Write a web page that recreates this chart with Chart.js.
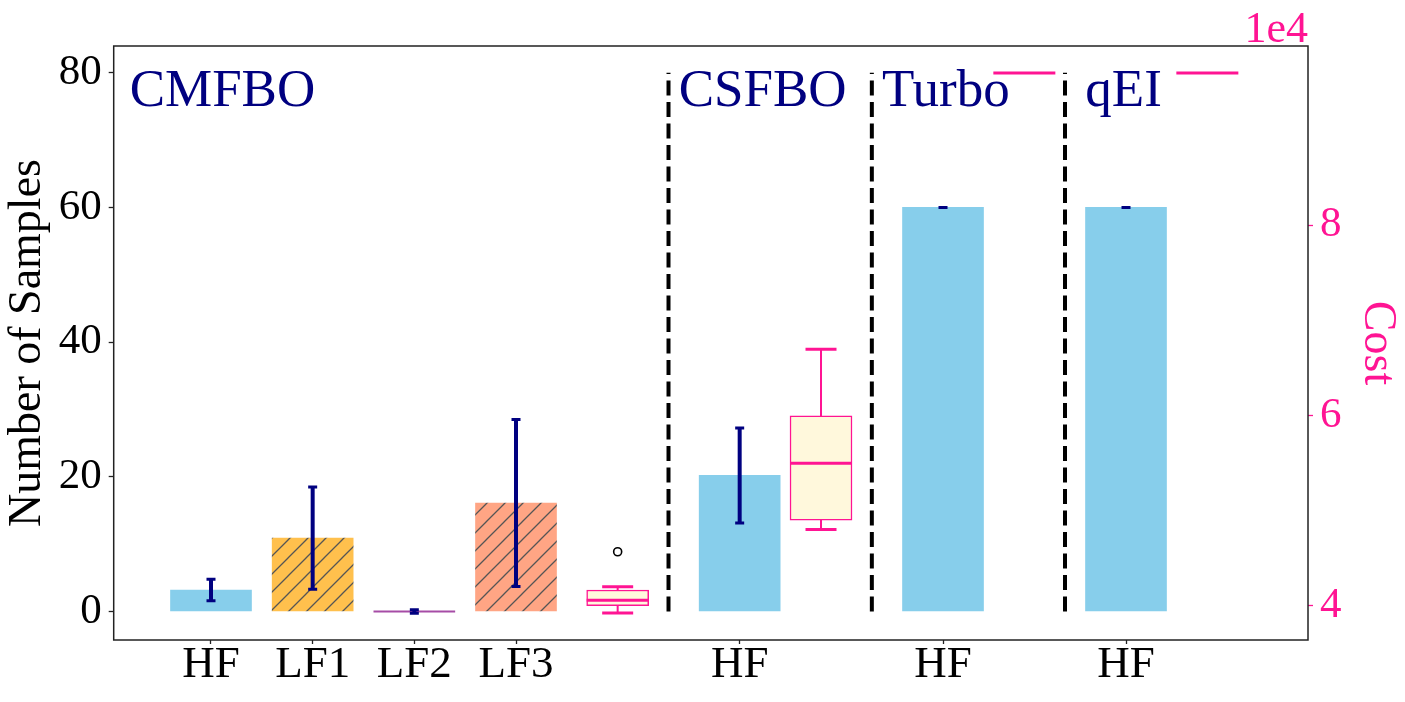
<!DOCTYPE html>
<html>
<head>
<meta charset="utf-8">
<script src="https://cdn.jsdelivr.net/npm/chart.js@4.4.1/dist/chart.umd.min.js"></script>
<style>
  html, body { margin: 0; padding: 0; background: #fff; }
  #wrap { width: 1405px; height: 702px; }
</style>
</head>
<body>
<div id="wrap"><canvas id="chart"></canvas></div>
<script>
// bars: number of samples (mean +- error), one per fidelity / method
const barLabels = ['HF', 'LF1', 'LF2', 'LF3', 'HF', 'HF', 'HF'];
const barPos = [0, 1, 2, 3, 5.2, 7.2, 9];
const barMeans = [3.2, 10.9, 0, 16.1, 20.2, 60, 60];
const barErrs = [1.6, 7.6, 0.25, 12.4, 7.05, 0, 0];

// cost box plots (right axis)
const boxPos = [4, 6, 8, 9.8];
const boxLow = [39210, 48000, 96000, 96000];
const boxQ1 = [39980, 48980, 96000, 96000];
const boxMedian = [40550, 54970, 96000, 96000];
const boxQ3 = [41630, 59940, 96000, 96000];
const boxHigh = [41970, 66940, 96000, 96000];
const boxOutliers = [[45650], [], [], []];

// method names and the dashed separators between them
const groupNames = ['CMFBO', 'CSFBO', 'Turbo', 'qEI'];
const groupNameX = [-0.8, 4.6, 6.6, 8.6];
const groupNameY = 75;
const sepPos = [4.5, 6.5, 8.4];
const sepRange = [0, 80];

const countTicks = [0, 20, 40, 60, 80];
const costTicks = [40000, 60000, 80000];

const navy = '#000080';
const pink = '#FF1493';
const serif = 'Liberation Serif';
Chart.defaults.font.family = serif;

// hatched fill like matplotlib '//'
function hatch(color) {
  const c = document.createElement('canvas');
  c.width = 18; c.height = 18;
  const g = c.getContext('2d');
  g.fillStyle = color;
  g.fillRect(0, 0, 18, 18);
  g.strokeStyle = '#555';
  g.lineWidth = 1.3;
  g.beginPath();
  g.moveTo(0, 18); g.lineTo(18, 0);
  g.moveTo(-2, 2); g.lineTo(2, -2);
  g.moveTo(16, 20); g.lineTo(20, 16);
  g.stroke();
  return g.createPattern(c, 'repeat');
}
const barColors = ['#87CEEB', hatch('rgb(255,192,77)'), 'rgba(128,0,128,0.7)',
  hatch('rgb(255,165,132)'), '#87CEEB', '#87CEEB', '#87CEEB'];

// error bars on top of the bars
const errorBars = {
  id: 'errorBars',
  afterDatasetsDraw(chart) {
    const { ctx, scales: { x, y } } = chart;
    ctx.save();
    ctx.strokeStyle = navy;
    barPos.forEach((p, i) => {
      const px = x.getPixelForValue(p);
      const top = y.getPixelForValue(barMeans[i] + barErrs[i]);
      const bot = y.getPixelForValue(barMeans[i] - barErrs[i]);
      ctx.lineWidth = 4;
      ctx.beginPath();
      ctx.moveTo(px, top); ctx.lineTo(px, bot);
      ctx.stroke();
      ctx.lineWidth = 3;
      ctx.beginPath();
      ctx.moveTo(px - 4.5, top); ctx.lineTo(px + 4.5, top);
      ctx.moveTo(px - 4.5, bot); ctx.lineTo(px + 4.5, bot);
      ctx.stroke();
    });
    ctx.restore();
  }
};

// whiskers, medians and outliers of the cost boxes
const boxParts = {
  id: 'boxParts',
  afterDatasetsDraw(chart) {
    const { ctx, scales: { x, y2 } } = chart;
    const half = 31;
    ctx.save();
    ctx.strokeStyle = pink;
    boxPos.forEach((p, i) => {
      const px = x.getPixelForValue(p);
      const lo = y2.getPixelForValue(boxLow[i]);
      const hi = y2.getPixelForValue(boxHigh[i]);
      const q1 = y2.getPixelForValue(boxQ1[i]);
      const q3 = y2.getPixelForValue(boxQ3[i]);
      const med = y2.getPixelForValue(boxMedian[i]);
      ctx.lineWidth = 2;
      ctx.beginPath();
      ctx.moveTo(px, q3); ctx.lineTo(px, hi);
      ctx.moveTo(px, q1); ctx.lineTo(px, lo);
      ctx.stroke();
      ctx.lineWidth = 3;
      ctx.beginPath();
      ctx.moveTo(px - half / 2, hi); ctx.lineTo(px + half / 2, hi);
      ctx.moveTo(px - half / 2, lo); ctx.lineTo(px + half / 2, lo);
      ctx.moveTo(px - half, med); ctx.lineTo(px + half, med);
      ctx.stroke();
      ctx.strokeStyle = '#000';
      ctx.lineWidth = 1.6;
      boxOutliers[i].forEach(v => {
        ctx.beginPath();
        ctx.arc(px, y2.getPixelForValue(v), 4, 0, Math.PI * 2);
        ctx.stroke();
      });
      ctx.strokeStyle = pink;
    });
    ctx.restore();
  }
};

// frame, group names and the 1e4 offset text
const decorations = {
  id: 'decorations',
  afterDraw(chart) {
    const { ctx, chartArea: a, scales: { x, y } } = chart;
    ctx.save();
    ctx.strokeStyle = '#222';
    ctx.lineWidth = 1.5;
    ctx.strokeRect(a.left, a.top, a.right - a.left, a.bottom - a.top);
    ctx.fillStyle = navy;
    ctx.font = '53px "' + serif + '"';
    ctx.textBaseline = 'alphabetic';
    ctx.textAlign = 'left';
    groupNames.forEach((t, i) => {
      ctx.fillText(t, x.getPixelForValue(groupNameX[i]), y.getPixelForValue(groupNameY));
    });
    ctx.fillStyle = pink;
    ctx.font = '44px "' + serif + '"';
    ctx.textAlign = 'right';
    ctx.fillText('1e4', a.right, a.top - 4);
    ctx.restore();
  }
};

const datasets = [
  {
    label: 'samples',
    data: barPos.map((p, i) => ({ x: p, y: barMeans[i] })),
    backgroundColor: barColors,
    borderWidth: 0,
    barThickness: 81,
    minBarLength: 1.5,
    grouped: false,
    yAxisID: 'y',
    order: 2
  },
  {
    label: 'cost',
    data: boxPos.map((p, i) => ({ x: p, y: [boxQ1[i], boxQ3[i]] })),
    backgroundColor: '#FFF8DC',
    borderColor: pink,
    borderWidth: 1.5,
    borderSkipped: false,
    barThickness: 62,
    grouped: false,
    yAxisID: 'y2',
    order: 2
  }
];
sepPos.forEach(p => {
  datasets.push({
    type: 'line',
    data: sepRange.map(v => ({ x: p, y: v })),
    borderColor: '#000',
    borderWidth: 4,
    borderDash: [15, 6.5],
    pointRadius: 0,
    yAxisID: 'y',
    order: 1
  });
});

new Chart(document.getElementById('chart'), {
  type: 'bar',
  data: { datasets },
  plugins: [errorBars, boxParts, decorations],
  options: {
    responsive: true,
    maintainAspectRatio: false,
    animation: false,
    layout: { padding: { top: 46, left: 0, right: 0, bottom: 0 } },
    plugins: { legend: { display: false }, tooltip: { enabled: false } },
    scales: {
      x: {
        type: 'linear',
        bounds: 'data',
        offset: false,
        min: -0.957,
        max: 10.79,
        afterBuildTicks: s => { s.ticks = barPos.map(v => ({ value: v })); },
        afterFit: s => { s.height = 62; },
        grid: { offset: false, drawOnChartArea: false, tickLength: 4, tickColor: '#222', tickWidth: 1.3 },
        border: { display: false },
        ticks: {
          autoSkip: false, maxRotation: 0, padding: -1, color: '#000',
          font: { size: 45, lineHeight: 1 },
          callback: (v, i) => barLabels[i]
        }
      },
      y: {
        position: 'left',
        min: -4.23,
        max: 83.96,
        afterBuildTicks: s => { s.ticks = countTicks.map(v => ({ value: v })); },
        afterFit: s => { s.width = 113.7; },
        grid: { drawOnChartArea: false, tickLength: 5, tickColor: '#222', tickWidth: 1.3 },
        border: { display: false },
        ticks: { padding: 7, color: '#000', font: { size: 43 } },
        title: { display: true, text: 'Number of Samples', color: '#000', padding: 0, font: { size: 46 } }
      },
      y2: {
        position: 'right',
        min: 36370,
        max: 98840,
        afterBuildTicks: s => { s.ticks = costTicks.map(v => ({ value: v })); },
        afterFit: s => { s.width = 97; },
        grid: { drawOnChartArea: false, tickLength: 5, tickColor: pink, tickWidth: 1.3 },
        border: { display: false },
        ticks: { padding: 7, color: pink, font: { size: 43 }, callback: v => v / 1e4 },
        title: { display: true, text: 'Cost', color: pink, padding: 0, font: { size: 46 } }
      }
    }
  }
});
</script>
</body>
</html>
